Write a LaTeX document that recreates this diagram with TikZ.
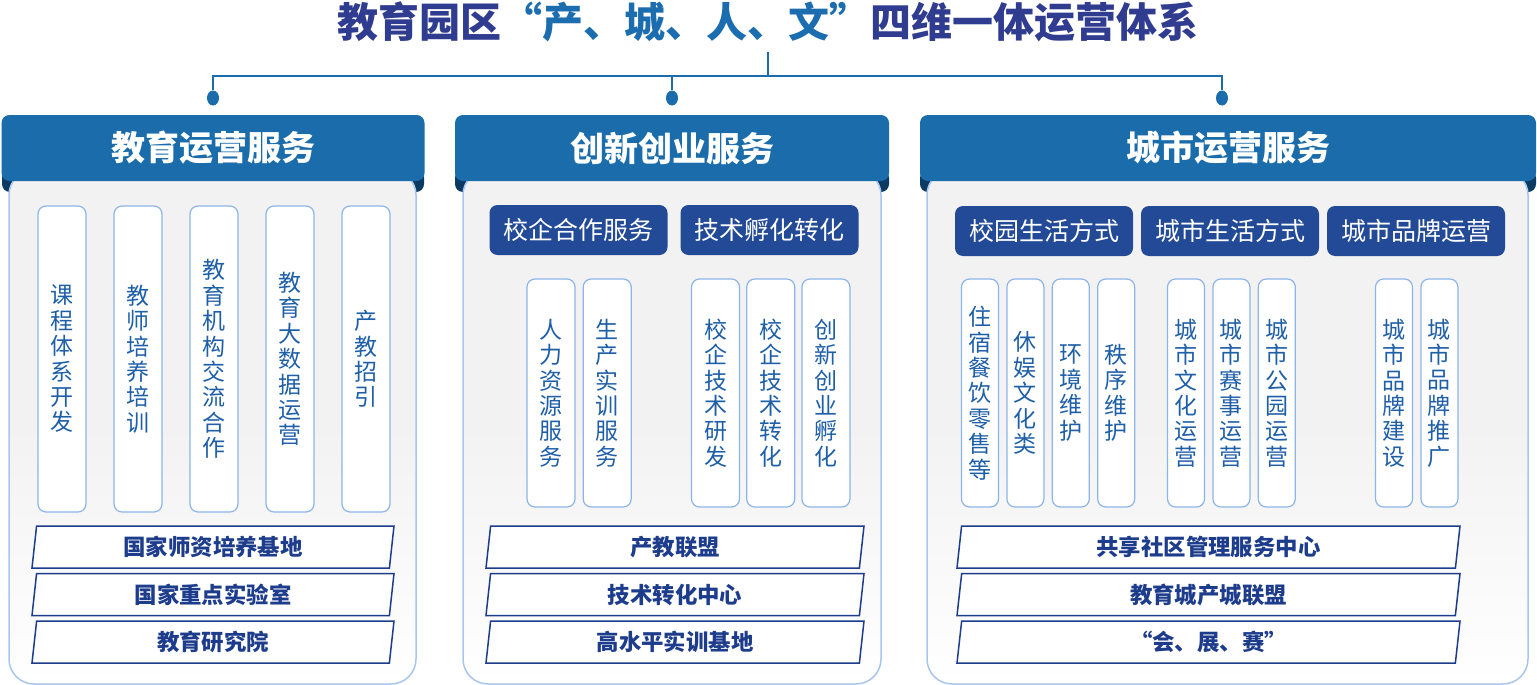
\documentclass[tikz,border=0pt]{standalone}
\usepackage{fontspec}
\setmainfont{Noto Sans CJK SC}
\usepackage{xcolor}
\usepackage{tikz}
\usetikzlibrary{positioning,shapes.geometric}

\definecolor{headblue}{HTML}{1A6CAB}
\definecolor{foldblue}{HTML}{0B3A63}
\definecolor{subblue}{HTML}{234A96}
\definecolor{barnavy}{HTML}{1D3C8C}
\definecolor{vtext}{HTML}{1E5FA8}
\definecolor{vborder}{HTML}{8DB5E8}
\definecolor{bodyedge}{HTML}{A7C6EE}
\definecolor{bodygray}{HTML}{F2F2F2}
\definecolor{titlenavy}{HTML}{2F3C8F}
\definecolor{titleblue}{HTML}{1C6DB0}

\begin{document}
\begin{tikzpicture}[x=0.5pt,y=-0.5pt,
node distance=4pt and 4pt,
head/.style={fill=headblue,rounded corners=4pt,text=white,font=\fontsize{17}{20}\selectfont\bfseries,minimum height=33pt},
fold/.style={fill=foldblue,rounded corners=4pt},
body/.style={draw=bodyedge,line width=0.75pt,rounded corners=12.5pt,top color=bodygray,bottom color=white,middle color=bodygray},
sub/.style={fill=subblue,rounded corners=4pt,text=white,font=\fontsize{12.5}{15}\selectfont,minimum width=89pt,minimum height=25pt},
vbox/.style={draw=vborder,line width=0.6pt,fill=white,rounded corners=4pt,text=vtext,font=\fontsize{11.5}{12.7}\selectfont,align=center,minimum width=24pt,inner sep=0pt},
vtall/.style={vbox,minimum height=153pt},
vshort/.style={vbox,minimum height=114pt},
vthin/.style={vshort,minimum width=18.5pt},
bar/.style={trapezium,trapezium left angle=78,trapezium right angle=102,trapezium stretches body,draw=barnavy,line width=0.75pt,fill=white,text=barnavy,font=\fontsize{11.2}{13}\selectfont\bfseries,minimum height=21pt,inner sep=0pt},
link/.style={draw=headblue,line width=0.75pt},
dot/.style={ellipse,fill=headblue,minimum width=6pt,minimum height=7.5pt,inner sep=0pt}]
\useasboundingbox (0,0) rectangle (1537,685);
\node[font=\fontsize{20.5}{24}\selectfont\bfseries] (title) at (768,22) {\textcolor{titlenavy}{教育园区}\textcolor{titleblue}{“产、城、人、文”}\textcolor{titlenavy}{四维一体运营体系}};
\coordinate (top) at (768,52);
\coordinate (bus) at (768,76);
\node[dot] (d1) at (213,98) {};
\node[dot] (d2) at (672,98) {};
\node[dot] (d3) at (1222,98) {};
\draw[link] (top) -- (bus);
\draw[link] (d1) |- (bus) -| (d3);
\draw[link] (d2) -- (d2 |- bus);
\fill[fold] (2,170) rectangle (424,192);
\node[body,minimum width=203.5pt,minimum height=257pt] (b1) at (212.5,427) {};
\node[head,minimum width=211.5pt] (h1) at (213,148) {教育运营服务};
\fill[fold] (455,170) rectangle (889,192);
\node[body,minimum width=209pt,minimum height=257pt] (b2) at (672,427) {};
\node[head,minimum width=217pt] (h2) at (672,148) {创新创业服务};
\fill[fold] (920,170) rectangle (1536,192);
\node[body,minimum width=300.5pt,minimum height=257pt] (b3) at (1227.5,427) {};
\node[head,minimum width=308pt] (h3) at (1228,148) {城市运营服务};
\node[vtall] (v11) at (62,359) {课\\程\\体\\系\\开\\发};
\node[vtall,right=13.4pt of v11] (v12) {教\\师\\培\\养\\培\\训};
\node[vtall,right=13.4pt of v12] (v13) {教\\育\\机\\构\\交\\流\\合\\作};
\node[vtall,right=13.4pt of v13] (v14) {教\\育\\大\\数\\据\\运\\营};
\node[vtall,right=13.4pt of v14] (v15) {产\\教\\招\\引};
\node[bar,minimum width=181pt] (r11) at (213,547) {国家师资培养基地};
\node[bar,minimum width=181pt,below=2pt of r11] (r12) {国家重点实验室};
\node[bar,minimum width=181pt,below=2pt of r12] (r13) {教育研究院};
\node[sub] (s21) at (578.5,230) {校企合作服务};
\node[sub] (s22) at (769.5,230) {技术孵化转化};
\node[vshort] (v21) at (551,393) {人\\力\\资\\源\\服\\务};
\node[vshort,right=3.5pt of v21] (v22) {生\\产\\实\\训\\服\\务};
\node[vshort] (v23) at (715.5,393) {校\\企\\技\\术\\研\\发};
\node[vshort,right=3pt of v23] (v24) {校\\企\\技\\术\\转\\化};
\node[vshort,right=3pt of v24] (v25) {创\\新\\创\\业\\孵\\化};
\node[bar,minimum width=189pt] (r21) at (675,547) {产教联盟};
\node[bar,minimum width=189pt,below=2pt of r21] (r22) {技术转化中心};
\node[bar,minimum width=189pt,below=2pt of r22] (r23) {高水平实训基地};
\node[sub] (s31) at (1044,231) {校园生活方式};
\node[sub] (s32) at (1230,231) {城市生活方式};
\node[sub] (s33) at (1416,231) {城市品牌运营};
\node[vthin] (v31) at (980,393) {住\\宿\\餐\\饮\\零\\售\\等};
\node[vthin,right=3.6pt of v31] (v32) {休\\娱\\文\\化\\类};
\node[vthin,right=3.6pt of v32] (v33) {环\\境\\维\\护};
\node[vthin,right=3.6pt of v33] (v34) {秩\\序\\维\\护};
\node[vthin] (v35) at (1186,393) {城\\市\\文\\化\\运\\营};
\node[vthin,right=3.6pt of v35] (v36) {城\\市\\赛\\事\\运\\营};
\node[vthin,right=3.6pt of v36] (v37) {城\\市\\公\\园\\运\\营};
\node[vthin] (v38) at (1394,393) {城\\市\\品\\牌\\建\\设};
\node[vthin,right=3.6pt of v38] (v39) {城\\市\\品\\牌\\推\\广};
\node[bar,minimum width=251.5pt] (r31) at (1208.5,547) {共享社区管理服务中心};
\node[bar,minimum width=251.5pt,below=2pt of r31] (r32) {教育城产城联盟};
\node[bar,minimum width=251.5pt,below=2pt of r32] (r33) {“会、展、赛”};
\end{tikzpicture}
\end{document}
